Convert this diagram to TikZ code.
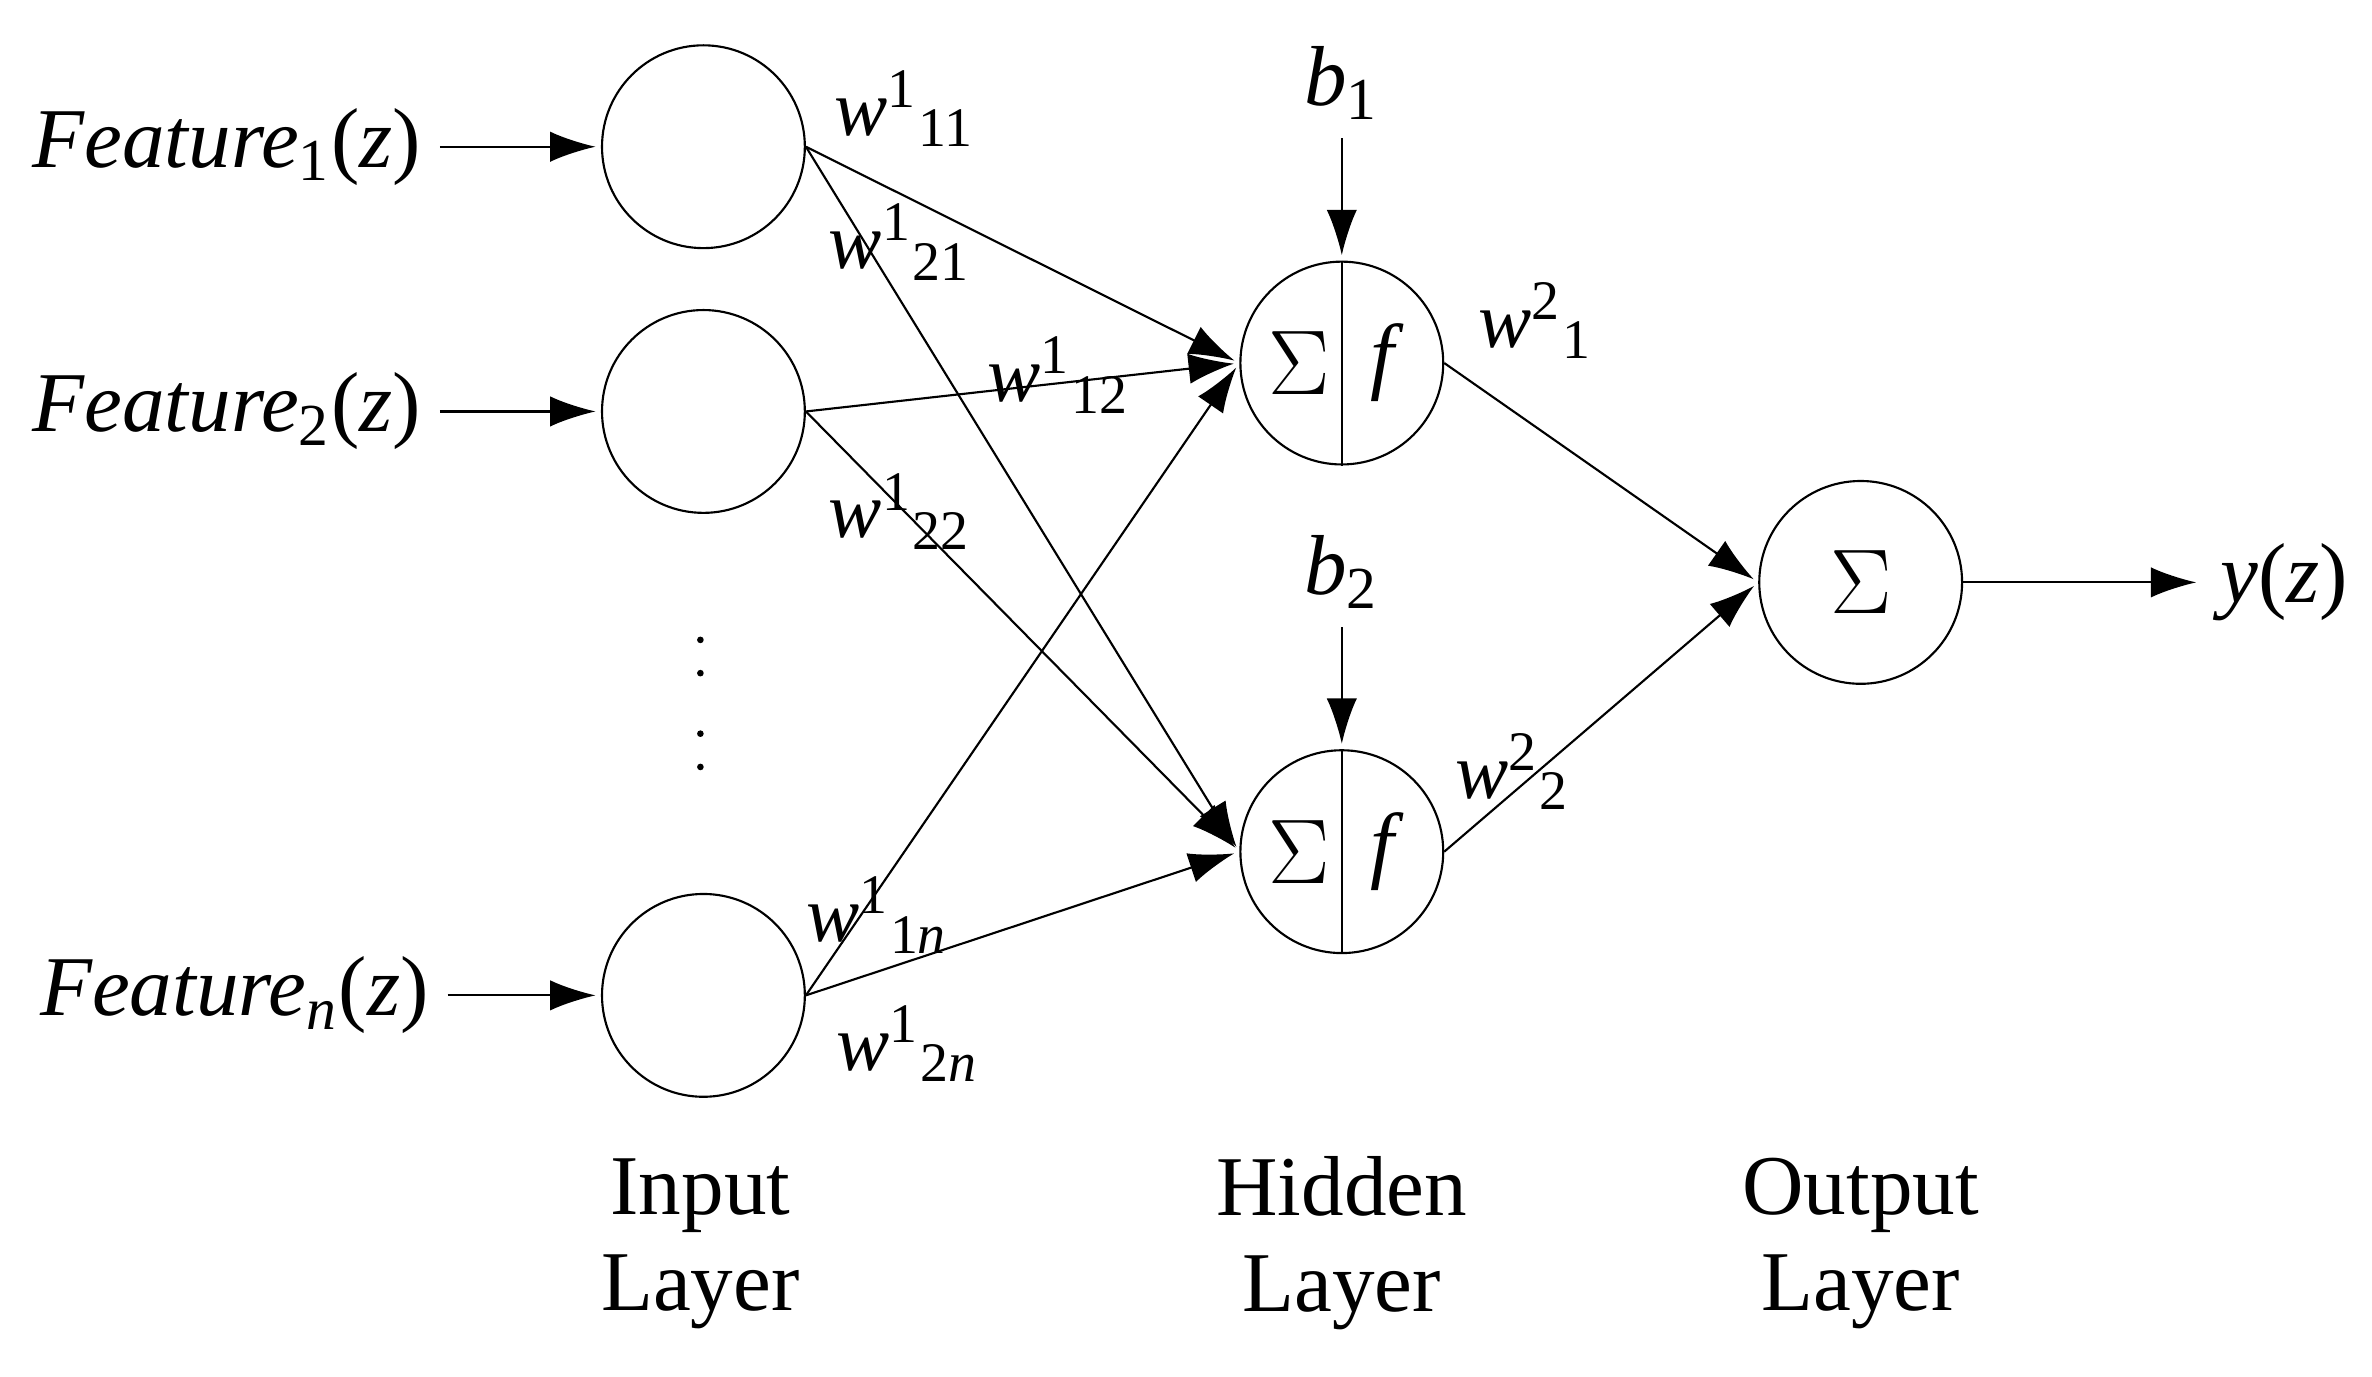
\documentclass[tikz,border=0pt]{standalone}
\usepackage{fontspec}
\setmainfont{Liberation Serif}
\usetikzlibrary{positioning,arrows.meta}
\tikzset{
  neuron/.style={circle,draw,minimum size=1.34cm,inner sep=0pt},
  lab/.style={font=\fontsize{16}{18}\selectfont},
  wlab/.style={font=\fontsize{15}{17}\selectfont,inner sep=0pt},
  conn/.style={-{Latex[length=0.3cm,width=0.2cm]},shorten >=1pt}
}
\begin{document}
\begin{tikzpicture}[x=0.01cm,y=-0.01cm]
  \useasboundingbox (0,0) rectangle (1568,910);
  % input layer
  \node[neuron] (i1) at (465,97) {};
  \node[neuron] (i2) at (465,272) {};
  \node[neuron] (in) at (465,658) {};
  \node[lab] (f1) at (150,97) {\textit{Feature}\textsubscript{1}(\textit{z})};
  \node[lab] (f2) at (150,272) {\textit{Feature}\textsubscript{2}(\textit{z})};
  \node[lab] (fn) at (155,658) {\textit{Feature}\textsubscript{\textit{n}}(\textit{z})};
  \foreach \y in {423,445,485,507} \fill (463,\y) circle (2.2);
  % hidden layer
  \node[neuron] (h1) at (887,240) {};
  \node[neuron] (h2) at (887,563) {};
  \draw (h1.north) -- (h1.south) (h2.north) -- (h2.south);
  \foreach \h in {h1,h2}{
    \node[lab] at ([xshift=-0.28cm]\h.center) {$\Sigma$};
    \node[lab] at ([xshift=0.3cm]\h.center) {\textit{f}};
  }
  \node[lab] (b1) at (887,55) {\textit{b}\textsubscript{1}};
  \node[lab] (b2) at (887,378) {\textit{b}\textsubscript{2}};
  % output layer
  \node[neuron] (o) at (1230,385) {};
  \node[lab] at (o) {$\Sigma$};
  \node[lab] (y) at (1510,385) {\textit{y}(\textit{z})};
  % connections
  \draw[conn] (f1) -- (i1);
  \draw[conn] (f2) -- (i2);
  \draw[conn] (fn) -- (in);
  \draw[conn] (b1) -- (h1);
  \draw[conn] (b2) -- (h2);
  \draw[conn] (o) -- (y);
  \foreach \a in {i1,i2,in}{
    \draw[conn] (\a.east) -- (h1.west);
    \draw[conn] (\a.east) -- (h2.west);
  }
  \draw[conn] (h1.east) -- (o.west);
  \draw[conn] (h2.east) -- (o.west);
  % weights
  \node[wlab] at (598,72) {\textit{w}\textsuperscript{1}\textsubscript{11}};
  \node[wlab] at (595,160) {\textit{w}\textsuperscript{1}\textsubscript{21}};
  \node[wlab] at (700,248) {\textit{w}\textsuperscript{1}\textsubscript{12}};
  \node[wlab] at (595,338) {\textit{w}\textsuperscript{1}\textsubscript{22}};
  \node[wlab] at (580,605) {\textit{w}\textsuperscript{1}\textsubscript{1\textit{n}}};
  \node[wlab] at (600,690) {\textit{w}\textsuperscript{1}\textsubscript{2\textit{n}}};
  \node[wlab] at (1015,212) {\textit{w}\textsuperscript{2}\textsubscript{1}};
  \node[wlab] at (1000,510) {\textit{w}\textsuperscript{2}\textsubscript{2}};
  % layer names
  \node[lab,align=center] at (463,822) {Input\\Layer};
  \node[lab,align=center] at (887,822) {Hidden\\Layer};
  \node[lab,align=center] at (1230,822) {Output\\Layer};
\end{tikzpicture}
\end{document}
